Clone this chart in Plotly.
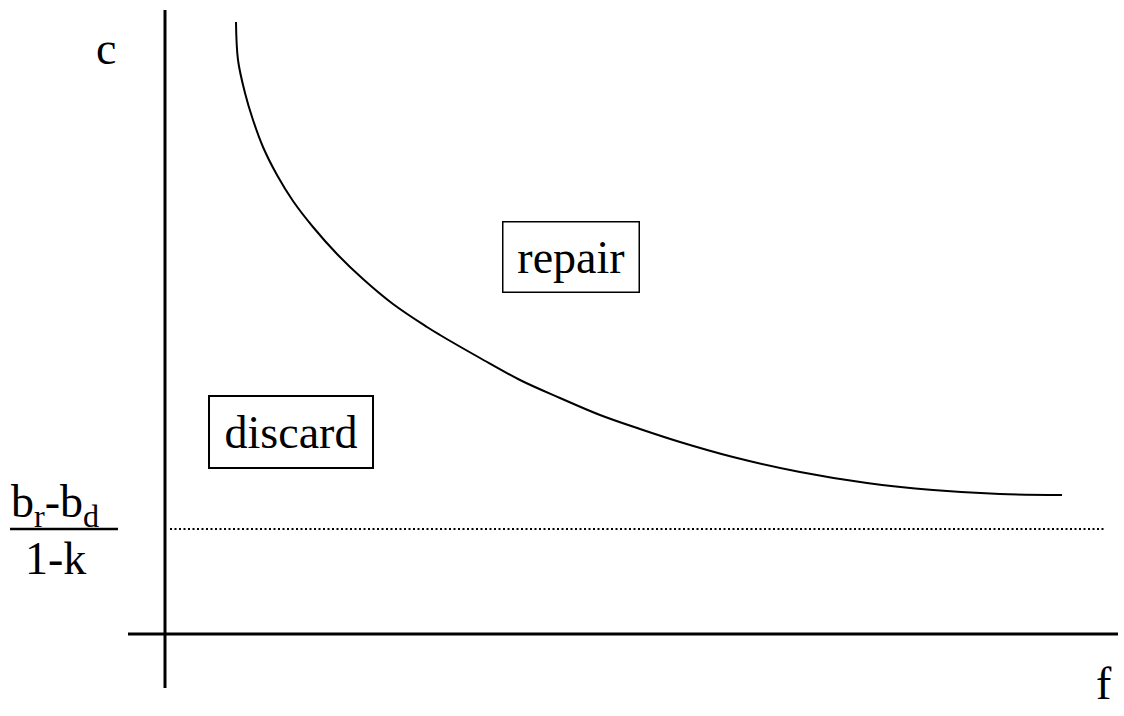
import plotly.graph_objects as go

# repair / discard boundary
f_curve = [0.71, 0.73, 0.80, 0.88, 0.98, 1.12, 1.28, 1.48, 1.72, 1.98, 2.28,
           2.62, 2.75, 3.15, 3.55, 3.95, 4.35, 4.75, 5.15, 5.68, 6.35, 7.02,
           7.68, 8.35, 8.97]
c_curve = [6.12, 5.74, 5.41, 5.14, 4.87, 4.59, 4.33, 4.07, 3.80, 3.55, 3.30,
           3.07, 2.99, 2.76, 2.54, 2.36, 2.19, 2.05, 1.92, 1.77, 1.62, 1.51,
           1.44, 1.40, 1.39]

# (b_r - b_d) / (1 - k) threshold
c_threshold = 1.05
threshold_span = [0.05, 9.41]

region_labels = ["repair", "discard"]
region_f = [4.06, 1.26]
region_c = [3.77, 2.02]

FONT = "Liberation Serif"
X_RANGE = [-1.65, 9.59]
Y_RANGE = [-0.82, 6.34]

fig = go.Figure()

fig.add_trace(go.Scatter(
    x=f_curve, y=c_curve,
    mode="lines",
    line=dict(color="black", width=2, shape="spline", smoothing=1.0),
    hoverinfo="skip",
))

fig.add_trace(go.Scatter(
    x=threshold_span, y=[c_threshold] * 2,
    mode="lines",
    line=dict(color="black", width=2, dash="2px,2.5px"),
    hoverinfo="skip",
))

# hand-drawn looking axes
fig.add_shape(type="line", x0=0, x1=0, y0=-0.54, y1=6.24,
              line=dict(color="black", width=3))
fig.add_shape(type="line", x0=-0.37, x1=9.53, y0=0, y1=0,
              line=dict(color="black", width=3))

# fraction bar of the threshold label
fig.add_shape(type="line", x0=-1.55, x1=-0.47, y0=c_threshold, y1=c_threshold,
              line=dict(color="black", width=2.5))

text_font = dict(family=FONT, size=46, color="black")

for lab, fx, cy, w, h, bw in zip(region_labels, region_f, region_c,
                                 [133, 160], [67, 68], [1.5, 2]):
    fig.add_annotation(x=fx, y=cy, text=lab, showarrow=False,
                       font=text_font, width=w, height=h,
                       bordercolor="black", borderwidth=bw, borderpad=1,
                       xanchor="center", yanchor="middle")

fig.add_annotation(x=-0.59, y=5.86, text="c", showarrow=False, font=text_font)
fig.add_annotation(x=9.39, y=-0.49, text="f", showarrow=False, font=text_font)
fig.add_annotation(x=-1.10, y=c_threshold + 0.24, text="b<sub>r</sub>-b<sub>d</sub>",
                   showarrow=False, font=text_font)
fig.add_annotation(x=-1.10, y=c_threshold - 0.29, text="1-k",
                   showarrow=False, font=text_font)

fig.update_layout(
    width=1124, height=716,
    margin=dict(l=0, r=0, t=0, b=0),
    paper_bgcolor="white", plot_bgcolor="white",
    showlegend=False,
    xaxis=dict(range=X_RANGE, visible=False, fixedrange=True),
    yaxis=dict(range=Y_RANGE, visible=False, fixedrange=True),
)

fig.write_html("out.html", config={"displayModeBar": False},
               post_script="document.body.style.margin='0';")
